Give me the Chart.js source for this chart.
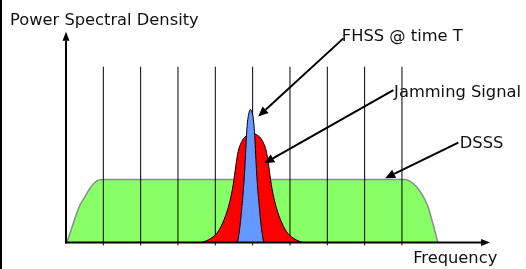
<!DOCTYPE html>
<html>
<head>
<meta charset="utf-8">
<script src="https://cdn.jsdelivr.net/npm/chart.js@4.4.1/dist/chart.umd.min.js"></script>
<style>
  html, body { margin: 0; padding: 0; background: #fff; }
  #wrap { position: relative; width: 526px; height: 269px; overflow: hidden; }
  #edge { position: absolute; left: 0; top: 0; width: 2px; height: 269px; background: #000; }
</style>
</head>
<body>
<div id="wrap">
  <canvas id="psd" width="526" height="269"></canvas>
  <div id="edge"></div>
</div>
<script>
// frequency: 0 = power axis, one unit per channel line
// power: 1 = DSSS plateau level
const dsssFreq  = [0.02, 0.107, 0.196, 0.287, 0.375, 0.509, 0.643, 0.777, 0.911, 1.02,
                   9.08, 9.22, 9.39, 9.52, 9.62, 9.72, 9.8, 9.88, 9.96];
const dsssPower = [0, 0.146, 0.305, 0.463, 0.595, 0.727, 0.86, 0.956, 0.995, 1.0,
                   1.0, 0.97, 0.886, 0.78, 0.675, 0.53, 0.36, 0.19, 0];

const jamFreq  = [3.64, 3.81, 3.94, 4.07, 4.24, 4.38, 4.48, 4.55, 4.61, 4.69, 4.77, 4.87, 4.99,
                  5.11, 5.21, 5.29, 5.37, 5.43, 5.5, 5.6, 5.74, 5.91, 6.04, 6.17, 6.34];
const jamPower = [0, 0.04, 0.09, 0.17, 0.37, 0.63, 0.92, 1.22, 1.44, 1.58, 1.66, 1.71, 1.73,
                  1.71, 1.66, 1.58, 1.44, 1.22, 0.92, 0.63, 0.37, 0.17, 0.09, 0.04, 0];

const fhssFreq  = [4.585, 4.6, 4.625, 4.665, 4.705, 4.765, 4.81, 4.835, 4.86, 4.895, 4.945,
                   4.995, 5.03, 5.055, 5.08, 5.125, 5.185, 5.225, 5.265, 5.29, 5.305];
const fhssPower = [0, 0.02, 0.1, 0.28, 0.52, 0.94, 1.4, 1.7, 1.9, 2.04, 2.11,
                   2.04, 1.9, 1.7, 1.4, 0.94, 0.52, 0.28, 0.1, 0.02, 0];

const channels = [1, 2, 3, 4, 5, 6, 7, 8, 9];
const channelTop = 2.79;

const toPoints = (xs, ys) => xs.map((v, i) => ({ x: v, y: ys[i] }));

// channel markers: vertical segments, broken by null points
const channelPoints = [];
channels.forEach(c => {
  channelPoints.push({ x: c, y: -0.045 }, { x: c, y: channelTop }, { x: c + 0.001, y: null });
});

// text and pointer arrows, in data units
const labels = [
  { text: "Power Spectral Density", at: [-1.5, 3.452] },
  { text: "FHSS @ time T", at: [7.39, 3.203] },
  { text: "Jamming Signal", at: [8.79, 2.305] },
  { text: "DSSS", at: [10.55, 1.495] },
  { text: "Frequency", at: [9.3, -0.325] }
];
const pointers = [
  { from: [7.43, 3.24], to: [5.15, 2.0] },
  { from: [8.77, 2.42], to: [5.31, 1.257] },
  { from: [10.51, 1.584], to: [8.55, 1.019] }
];
const xAxisEnd = 11.36;
const yAxisEnd = 3.346;

function arrow(ctx, x1, y1, x2, y2, len, half) {
  const a = Math.atan2(y2 - y1, x2 - x1);
  const bx = x2 - len * Math.cos(a), by = y2 - len * Math.sin(a);
  ctx.beginPath();
  ctx.moveTo(x1, y1);
  ctx.lineTo(bx, by);
  ctx.stroke();
  ctx.beginPath();
  ctx.moveTo(x2, y2);
  ctx.lineTo(bx + half * Math.sin(a), by - half * Math.cos(a));
  ctx.lineTo(bx - half * Math.sin(a), by + half * Math.cos(a));
  ctx.closePath();
  ctx.fill();
}

const sketch = {
  id: "sketch",
  afterDatasetsDraw(chart) {
    const { ctx, scales: { x, y } } = chart;
    const px = v => x.getPixelForValue(v);
    const py = v => y.getPixelForValue(v);
    ctx.save();
    ctx.strokeStyle = "#000";
    ctx.fillStyle = "#000";
    ctx.lineCap = "butt";

    // axes
    ctx.lineWidth = 2;
    arrow(ctx, px(0) - 1, py(0), px(xAxisEnd), py(0), 9, 3.5);
    arrow(ctx, px(0), py(0) + 1, px(0), py(yAxisEnd), 9, 3.5);

    // pointers
    pointers.forEach(p => {
      arrow(ctx, px(p.from[0]), py(p.from[1]), px(p.to[0]), py(p.to[1]), 10, 4.5);
    });

    // text
    ctx.font = '16.3px "DejaVu Sans"';
    ctx.textAlign = "left";
    ctx.textBaseline = "alphabetic";
    ctx.fillStyle = "#111";
    labels.forEach(l => ctx.fillText(l.text, px(l.at[0]), py(l.at[1])));
    ctx.restore();
  }
};

new Chart(document.getElementById("psd"), {
  type: "scatter",
  data: {
    datasets: [
      {
        label: "DSSS",
        data: toPoints(dsssFreq, dsssPower),
        showLine: true,
        fill: "origin",
        backgroundColor: "#88ff66",
        borderColor: "rgba(130,130,130,0.9)",
        borderWidth: 1.5,
        cubicInterpolationMode: "monotone",
        pointRadius: 0,
        order: 4
      },
      {
        label: "channels",
        data: channelPoints,
        showLine: true,
        spanGaps: false,
        fill: false,
        borderColor: "#000",
        borderWidth: 1,
        pointRadius: 0,
        order: 3
      },
      {
        label: "Jamming Signal",
        data: toPoints(jamFreq, jamPower),
        showLine: true,
        fill: "origin",
        backgroundColor: "#ff0000",
        borderColor: "#000",
        borderWidth: 1,
        cubicInterpolationMode: "monotone",
        pointRadius: 0,
        order: 2
      },
      {
        label: "FHSS @ time T",
        data: toPoints(fhssFreq, fhssPower),
        showLine: true,
        fill: "origin",
        backgroundColor: "#6699ff",
        borderColor: "#000",
        borderWidth: 1,
        cubicInterpolationMode: "monotone",
        pointRadius: 0,
        order: 1
      }
    ]
  },
  options: {
    responsive: false,
    animation: false,
    devicePixelRatio: 1,
    layout: { padding: 0 },
    scales: {
      x: { type: "linear", min: -1.768, max: 12.323, display: false },
      y: { type: "linear", min: -0.421, max: 3.849, display: false }
    },
    plugins: {
      legend: { display: false },
      tooltip: { enabled: false }
    }
  },
  plugins: [sketch]
});
</script>
</body>
</html>
